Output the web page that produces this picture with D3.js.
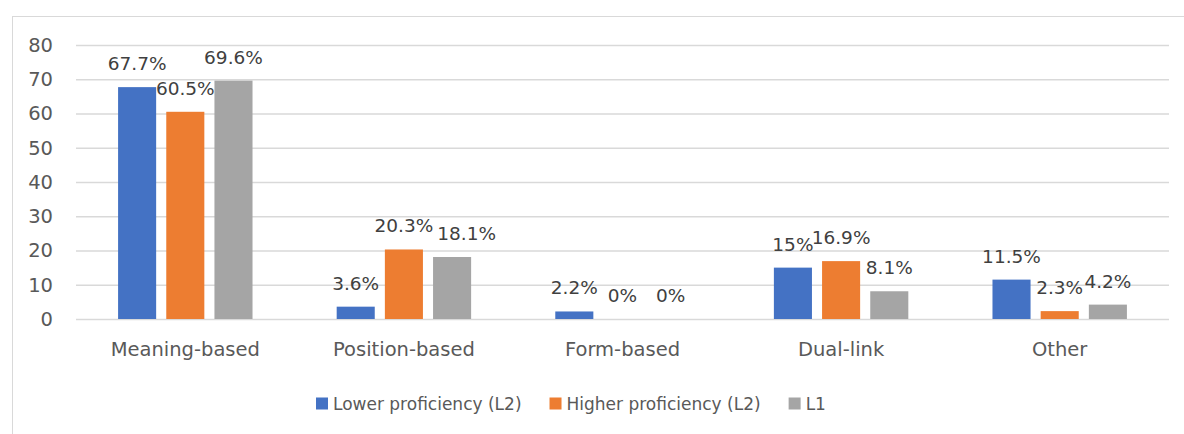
<!DOCTYPE html>
<html>
<head>
<meta charset="utf-8">
<script src="https://cdn.jsdelivr.net/npm/d3@7"></script>
<style>
  body { margin: 0; background: #fff; }
  text { font-family: "DejaVu Sans", sans-serif; }
</style>
</head>
<body>
<div id="chart"></div>
<script>
// data
const categories = ["Meaning-based", "Position-based", "Form-based", "Dual-link", "Other"];
const seriesNames = ["Lower proficiency (L2)", "Higher proficiency (L2)", "L1"];
const lowerL2 = [67.7, 3.6, 2.2, 15, 11.5];
const higherL2 = [60.5, 20.3, 0, 16.9, 2.3];
const l1 = [69.6, 18.1, 0, 8.1, 4.2];
const yTicks = [0, 10, 20, 30, 40, 50, 60, 70, 80];
const colors = ["#4472C4", "#ED7D31", "#A5A5A5"];

const series = [lowerL2, higherL2, l1];

const width = 1184;
const height = 434;
const margin = {top: 45, bottom: 115, left: 76, right: 15};

const svg = d3.select('#chart')
  .append('svg')
  .attr('width', width)
  .attr('height', height);

// chart frame (only left and top edges show)
svg.append('rect')
  .attr('x', 12.5).attr('y', 16.5)
  .attr('width', 1300).attr('height', 600)
  .attr('fill', 'none')
  .attr('stroke', '#d9d9d9');

const x0 = d3.scaleBand()
  .domain(categories)
  .range([margin.left, width - margin.right])
  .paddingInner(0.385)
  .paddingOuter(0.1925);

const x1 = d3.scaleBand()
  .domain(d3.range(series.length))
  .range([0, x0.bandwidth()])
  .paddingInner(0.21);

const y = d3.scaleLinear()
  .domain([0, 80])
  .range([height - margin.bottom, margin.top]);

// gridlines + y labels
const yAxis = svg.append('g')
  .attr('transform', `translate(${margin.left},0)`)
  .call(d3.axisLeft(y).tickValues(yTicks).tickSize(-(width - margin.right - margin.left)).tickPadding(23));
yAxis.select('.domain').remove();
yAxis.selectAll('line').attr('stroke', '#d9d9d9').attr('stroke-width', 1.3);
yAxis.selectAll('text')
  .attr('fill', '#595959')
  .attr('font-size', 19.5)
  .attr('font-family', '"DejaVu Sans", sans-serif');

// category labels
const xAxis = svg.append('g')
  .attr('transform', `translate(0,${y(0)})`)
  .call(d3.axisBottom(x0).tickSize(0).tickPadding(23));
xAxis.select('.domain').remove();
xAxis.selectAll('text')
  .attr('fill', '#595959')
  .attr('font-size', 19.5)
  .attr('font-family', '"DejaVu Sans", sans-serif');

// bars
const flat = [];
categories.forEach((c, i) => {
  series.forEach((s, j) => flat.push({cat: c, s: j, v: s[i]}));
});

svg.append('g')
  .selectAll('rect')
  .data(flat)
  .join('rect')
    .attr('x', d => x0(d.cat) + x1(d.s))
    .attr('y', d => y(d.v))
    .attr('width', x1.bandwidth())
    .attr('height', d => y(0) - y(d.v))
    .attr('fill', d => colors[d.s]);

// value labels
const labels = svg.append('g')
  .selectAll('text')
  .data(flat)
  .join('text')
    .attr('x', d => x0(d.cat) + x1(d.s) + x1.bandwidth() / 2)
    .attr('y', d => y(d.v) - 17)
    .attr('text-anchor', 'middle')
    .attr('fill', '#404040')
    .attr('font-size', 18.5)
    .text(d => d.v + '%');

// push a label right when it collides with its left neighbour (like excel does)
const nodes = labels.nodes();
for (let k = 1; k < nodes.length; k++) {
  if (flat[k].cat !== flat[k - 1].cat) continue;
  const a = nodes[k - 1].getBBox(), b = nodes[k].getBBox();
  const vOver = Math.min(a.y + a.height, b.y + b.height) - Math.max(a.y, b.y);
  const hOver = a.x + a.width - b.x;
  if (vOver > 6 && hOver > 3) {
    nodes[k].setAttribute('x', +nodes[k].getAttribute('x') + hOver + 4);
  }
}

// legend
const legend = svg.append('g').attr('transform', 'translate(0,404)');
let lx = 316;
seriesNames.forEach((name, i) => {
  const item = legend.append('g').attr('transform', `translate(${lx},0)`);
  item.append('rect')
    .attr('x', 0).attr('y', -6.5)
    .attr('width', 12).attr('height', 12)
    .attr('fill', colors[i]);
  const t = item.append('text')
    .attr('x', 17).attr('y', 0)
    .attr('dy', '0.35em')
    .attr('fill', '#595959')
    .attr('font-size', 17)
    .text(name);
  lx += 17 + t.node().getComputedTextLength() + 28;
});
</script>
</body>
</html>
